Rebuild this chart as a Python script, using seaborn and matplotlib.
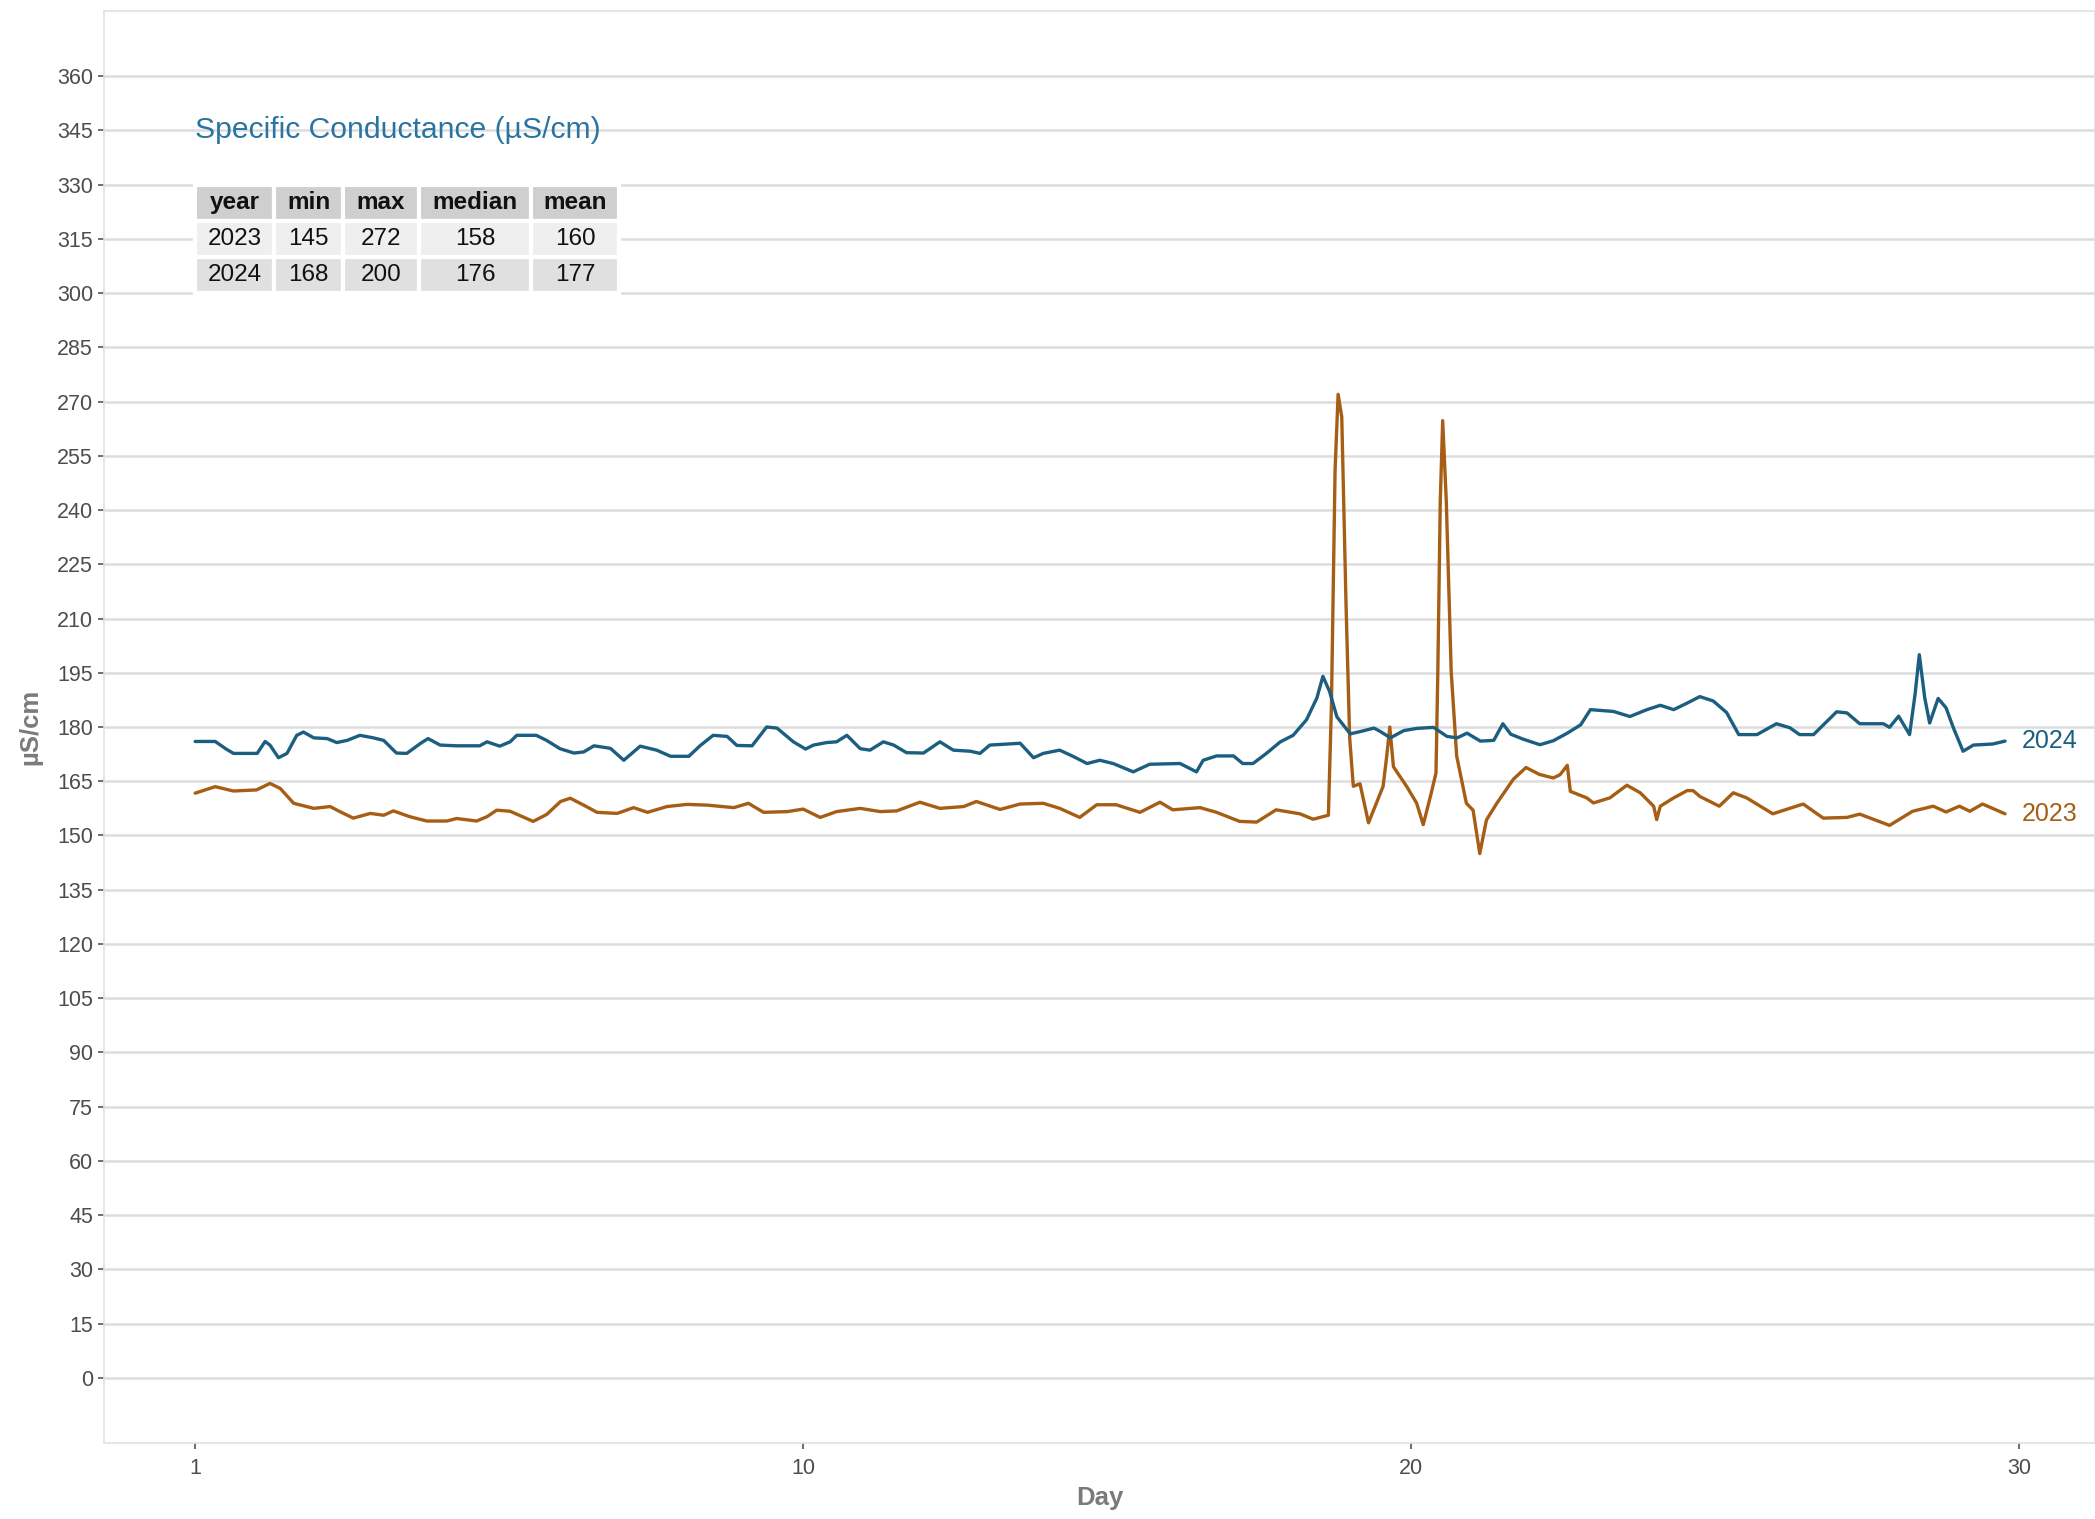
import pandas as pd
import seaborn as sns
import matplotlib.pyplot as plt

# Specific conductance readings (uS/cm).
# x is days elapsed since the first reading (tick "1" = start of the month)
days_2024 = [0.00, 0.33, 0.50, 0.63, 1.02, 1.15, 1.23, 1.37, 1.51, 1.67, 1.78, 1.95, 2.17, 2.33,
             2.50, 2.71, 2.93, 3.10, 3.31, 3.48, 3.70, 3.83, 4.03, 4.30, 4.68, 4.80, 5.01, 5.18,
             5.29, 5.61, 5.78, 6.00, 6.23, 6.39, 6.56, 6.83, 7.05, 7.32, 7.59, 7.82, 8.12, 8.31,
             8.52, 8.75, 8.91, 9.16, 9.40, 9.57, 9.84, 10.04, 10.17, 10.39, 10.55, 10.72,
             10.94, 11.10, 11.32, 11.49, 11.70, 11.98, 12.25, 12.47, 12.75, 12.91, 13.07, 13.57,
             13.79, 13.95, 14.22, 14.45, 14.67, 14.88, 15.10, 15.43, 15.70, 16.20, 16.47, 16.58,
             16.80, 17.08, 17.23, 17.40, 17.62, 17.85, 18.06, 18.28, 18.45, 18.55, 18.66, 18.78,
             19.00, 19.18, 19.39, 19.49, 19.66, 19.88, 20.09, 20.37, 20.59, 20.76, 20.92, 21.14,
             21.36, 21.51, 21.64, 21.85, 22.12, 22.34, 22.57, 22.79, 22.95, 23.33, 23.60, 23.88,
             24.10, 24.32, 24.54, 24.75, 24.97, 25.19, 25.39, 25.69, 26.01, 26.23, 26.39, 26.62,
             27.00, 27.17, 27.38, 27.77, 27.87, 28.02, 28.20, 28.29, 28.36, 28.45, 28.53, 28.67,
             28.80, 28.92, 29.08, 29.25, 29.57, 29.77]
sc_2024 = [176.0, 176.0, 174.0, 172.7, 172.7, 176.0, 175.0, 171.5, 172.7, 177.7, 178.6, 177.0, 176.8,
           175.7, 176.3, 177.7, 177.0, 176.3, 172.8, 172.7, 175.4, 176.8, 175.0, 174.8, 174.8, 175.9,
           174.7, 175.9, 177.7, 177.7, 176.3, 174.0, 172.8, 173.1, 174.8, 174.1, 170.8, 174.7, 173.6,
           171.9, 171.9, 174.9, 177.7, 177.4, 174.9, 174.8, 180.0, 179.7, 175.9, 173.9, 175.0, 175.7,
           175.9, 177.7, 174.0, 173.6, 175.9, 175.0, 172.9, 172.8, 175.9, 173.6, 173.3, 172.7, 175.0,
           175.5, 171.5, 172.7, 173.6, 171.8, 169.9, 170.8, 169.9, 167.6, 169.7, 169.9, 167.6, 170.8,
           172.0, 172.0, 169.9, 169.9, 172.7, 175.9, 177.7, 182.0, 188.0, 194.0, 189.8, 182.8, 178.1,
           178.8, 179.7, 178.8, 177.0, 179.0, 179.6, 179.9, 177.4, 177.0, 178.3, 176.1, 176.3, 180.9,
           178.0, 176.6, 175.1, 176.2, 178.3, 180.6, 184.8, 184.3, 182.9, 184.8, 186.0, 184.8, 186.6,
           188.4, 187.2, 184.0, 177.9, 177.9, 180.9, 179.8, 177.9, 177.9, 184.2, 183.9, 180.9, 180.9,
           179.9, 183.0, 177.9, 189.0, 200.0, 188.0, 181.1, 187.9, 185.3, 179.8, 173.3, 175.0, 175.3,
           176.1]

days_2023 = [0.00, 0.33, 0.63, 1.01, 1.23, 1.40, 1.62, 1.95, 2.22, 2.38, 2.60, 2.88, 3.10, 3.26,
             3.53, 3.81, 4.14, 4.30, 4.63, 4.80, 4.96, 5.18, 5.56, 5.78, 6.01, 6.17, 6.39, 6.61,
             6.94, 7.21, 7.44, 7.76, 8.09, 8.42, 8.86, 9.10, 9.35, 9.74, 10.00, 10.28, 10.55,
             10.94, 11.27, 11.54, 11.92, 12.25, 12.64, 12.85, 13.24, 13.57, 13.95, 14.22, 14.55,
             14.83, 15.15, 15.54, 15.87, 16.08, 16.53, 16.80, 17.18, 17.46, 17.78, 18.17, 18.39,
             18.64, 18.69, 18.75, 18.80, 18.86, 18.93, 18.99, 19.05, 19.16, 19.30, 19.54, 19.60,
             19.65, 19.71, 19.93, 20.09, 20.20, 20.33, 20.41, 20.44, 20.48, 20.52, 20.58, 20.66,
             20.75, 20.91, 21.02, 21.13, 21.24, 21.41, 21.68, 21.89, 22.11, 22.34, 22.45, 22.57,
             22.62, 22.89, 23.00, 23.27, 23.55, 23.77, 23.99, 24.04, 24.10, 24.32, 24.54, 24.64,
             24.75, 25.07, 25.30, 25.52, 25.95, 26.45, 26.78, 27.17, 27.38, 27.87, 28.25, 28.59,
             28.80, 29.02, 29.19, 29.40, 29.77]
sc_2023 = [161.7, 163.5, 162.3, 162.6, 164.4, 163.0, 158.9, 157.5, 158.0, 156.6, 154.8, 156.1, 155.6,
           156.8, 155.2, 154.0, 154.0, 154.7, 154.0, 155.2, 157.0, 156.7, 153.9, 155.8, 159.4, 160.3,
           158.4, 156.4, 156.1, 157.7, 156.4, 158.0, 158.6, 158.4, 157.7, 158.9, 156.4, 156.6, 157.3,
           155.0, 156.6, 157.5, 156.6, 156.8, 159.2, 157.5, 158.0, 159.4, 157.2, 158.7, 158.9, 157.5,
           155.0, 158.5, 158.5, 156.4, 159.2, 157.1, 157.7, 156.4, 153.9, 153.7, 157.1, 156.0, 154.5,
           155.6, 186.0, 251.0, 272.0, 265.7, 214.1, 177.0, 163.6, 164.3, 153.5, 163.6, 172.0, 180.0,
           169.0, 163.5, 159.0, 153.0, 161.6, 167.3, 195.3, 242.2, 264.7, 242.2, 195.3, 172.0, 158.9,
           157.0, 145.0, 154.3, 158.9, 165.5, 168.8, 166.9, 165.9, 166.8, 169.4, 162.2, 160.4, 159.0,
           160.4, 163.9, 161.8, 158.1, 154.4, 158.1, 160.4, 162.4, 162.4, 160.8, 158.1, 161.8, 160.4,
           156.0, 158.7, 154.8, 155.0, 155.9, 152.8, 156.7, 158.1, 156.5, 158.1, 156.7, 158.7, 156.0]

day_ticks = [0, 10, 20, 30]
day_labels = ['1', '10', '20', '30']

stat_cols = ['year', 'min', 'max', 'median', 'mean']
stat_rows = [['2023', '145', '272', '158', '160'],
             ['2024', '168', '200', '176', '177']]

year_colors = {'2023': '#a65d14', '2024': '#1b5e80'}

df = pd.concat([
    pd.DataFrame({'day': days_2023, 'sc': sc_2023, 'year': '2023'}),
    pd.DataFrame({'day': days_2024, 'sc': sc_2024, 'year': '2024'}),
], ignore_index=True)

sns.set_theme(style='whitegrid')
plt.rcParams['font.family'] = ['Liberation Sans', 'DejaVu Sans']

W, H = 2095, 1519
fig = plt.figure(figsize=(W / 100, H / 100), dpi=100)
ax = fig.add_axes([104 / W, 1 - 1443 / H, 1 - 104 / W, (1443 - 11) / H])

sns.lineplot(data=df, x='day', y='sc', hue='year', palette=year_colors,
             estimator=None, sort=False, linewidth=2.4, legend=False, ax=ax)

xmin, xmax = -1.5, 31.25
ymin, ymax = -18, 378
ax.set_xlim(xmin, xmax)
ax.set_ylim(ymin, ymax)
ax.set_xticks(day_ticks)
ax.set_xticklabels(day_labels)
ax.set_yticks(list(range(0, 361, 15)))
ax.grid(axis='x', visible=False)
ax.grid(axis='y', color='#dddddd', linewidth=1.8)
for s in ax.spines.values():
    s.set_color('#e2e2e2')
    s.set_linewidth(1.2)
ax.tick_params(left=True, bottom=True, length=4.5, width=1.2, color='#555555',
               labelsize=15.5, labelcolor='#4d4d4d')
ax.tick_params(axis='y', pad=3.5)
ax.tick_params(axis='x', pad=6)
ax.set_xlabel('Day', fontsize=18.5, fontweight='bold', color='#7a7a7a', labelpad=5)
ax.set_ylabel('µS/cm', fontsize=18.5, fontweight='bold', color='#7a7a7a', labelpad=10)

# end-of-line year labels
for yr, d, v in [('2024', days_2024, sc_2024), ('2023', days_2023, sc_2023)]:
    ax.text(d[-1] + 0.28, v[-1], yr, color=year_colors[yr], fontsize=18,
            ha='left', va='center')

# panel title and summary table
ax.text(0, 345, 'Specific Conductance (µS/cm)', color='#2b74a0', fontsize=21.7,
        ha='left', va='center')

tx0, tx1, ty0, ty1 = 0, 6.97, 300, 330
bbox = [(tx0 - xmin) / (xmax - xmin), (ty0 - ymin) / (ymax - ymin),
        (tx1 - tx0) / (xmax - xmin), (ty1 - ty0) / (ymax - ymin)]
tab = ax.table(cellText=stat_rows, colLabels=stat_cols, cellLoc='center',
               colWidths=[235, 204, 226, 335, 260], bbox=bbox)
tab.auto_set_font_size(False)
tab.set_fontsize(17.5)
row_fill = {0: '#cfcfcf', 1: '#efefef', 2: '#e0e0e0'}
for (r, c), cell in tab.get_celld().items():
    cell.set_facecolor(row_fill[r])
    cell.set_edgecolor('white')
    cell.set_linewidth(3)
    cell.get_text().set_color('#111111')
    if r == 0:
        cell.get_text().set_fontweight('bold')
tab.set_zorder(5)

fig.savefig('out.png', dpi=100, facecolor='white')
